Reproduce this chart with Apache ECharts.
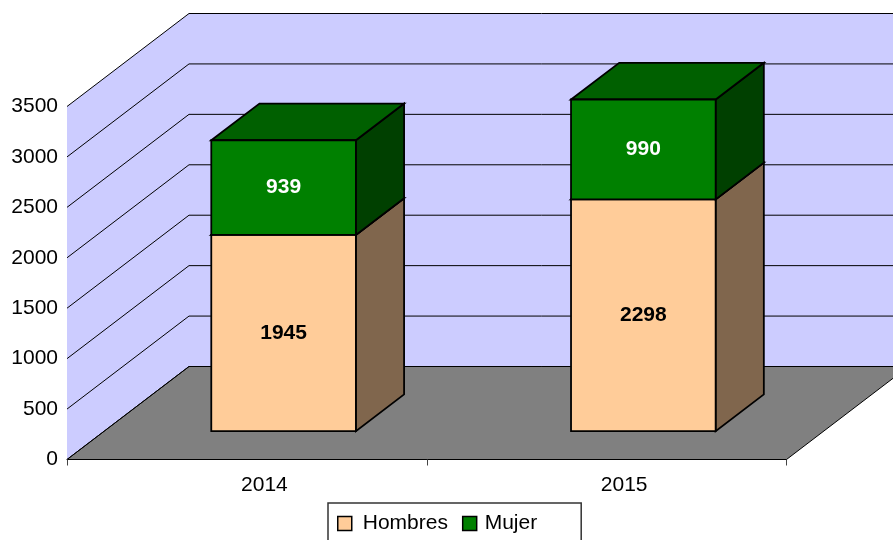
<!DOCTYPE html>
<html>
<head>
<meta charset="utf-8">
<style>
  html, body { margin: 0; padding: 0; background: #fff; overflow: hidden; }
  #chart { width: 893px; height: 540px; }
</style>
<script src="https://cdn.jsdelivr.net/npm/echarts@6/dist/echarts.min.js"></script>
</head>
<body>
<div id="chart"></div>
<script>
const categories = ['2014', '2015'];
const hombres = [1945, 2298];
const mujer = [939, 990];
const yTicks = [0, 500, 1000, 1500, 2000, 2500, 3000, 3500];

const FONT = '"Liberation Sans", Arial, sans-serif';
const FONT_SIZE = 21;

// 3D look: how far the back wall sits from the front plane
const DX = 122;
const DY = -93;
// where the bars sit inside that depth (0 front, 1 back)
const BAR_FRONT = 0.305;
const BAR_BACK = 0.70;
const BAR_WIDTH = 0.402; // part of the category band

function poly(points, fill, stroke, lineWidth) {
  return {
    type: 'polygon',
    shape: { points: points },
    style: { fill: fill, stroke: stroke || null, lineWidth: lineWidth || 1, lineJoin: 'miter' }
  };
}

function renderBackdrop(params, api) {
  const rect = params.coordSys;
  const left = rect.x;
  const right = rect.x + rect.width;
  const y0 = api.coord([0, 0])[1];
  const yTop = api.coord([0, yTicks[yTicks.length - 1]])[1];
  const children = [
    // left wall + back wall
    poly([[left, y0], [left, yTop], [left + DX, yTop + DY], [left + DX, y0 + DY]], '#CCCCFF'),
    poly([[left + DX, yTop + DY], [right + DX, yTop + DY], [right + DX, y0 + DY], [left + DX, y0 + DY]], '#CCCCFF'),
    // floor
    poly([[left, y0], [left + DX, y0 + DY], [right + DX, y0 + DY], [right, y0]], '#808080', '#000', 1)
  ];
  yTicks.forEach(function (t) {
    const y = api.coord([0, t])[1];
    children.push({
      type: 'polyline',
      shape: { points: [[left, y], [left + DX, y + DY], [right + DX, y + DY]] },
      style: { fill: null, stroke: '#000', lineWidth: 1 }
    });
  });
  return { type: 'group', children: children };
}

function makeBarRenderer(front, side, top, labelColor) {
  return function (params, api) {
    const band = api.size([1, 0])[0];
    const cx = api.coord([api.value(0), 0])[0];
    const w = band * BAR_WIDTH;
    const fx = cx - w / 2 + DX * BAR_FRONT - 0.5;
    const fdy = DY * BAR_FRONT;
    const ddx = DX * (BAR_BACK - BAR_FRONT);
    const ddy = DY * (BAR_BACK - BAR_FRONT);
    const yA = api.coord([0, api.value(1)])[1] + fdy;
    const yB = api.coord([0, api.value(2)])[1] + fdy;
    const x2 = fx + w;
    const lw = 1.8;
    return {
      type: 'group',
      children: [
        poly([[x2, yA], [x2, yB], [x2 + ddx, yB + ddy], [x2 + ddx, yA + ddy]], side, '#000', lw),
        poly([[fx, yB], [fx + ddx, yB + ddy], [x2 + ddx, yB + ddy], [x2, yB]], top, '#000', lw),
        poly([[fx, yA], [fx, yB], [x2, yB], [x2, yA]], front, '#000', lw),
        {
          type: 'text',
          style: {
            x: fx + w / 2,
            y: (yA + yB) / 2,
            text: String(api.value(2) - api.value(1)),
            fill: labelColor,
            font: 'bold ' + FONT_SIZE + 'px ' + FONT,
            align: 'center',
            verticalAlign: 'middle'
          }
        }
      ]
    };
  };
}

const chart = echarts.init(document.getElementById('chart'));

chart.setOption({
  animation: false,
  backgroundColor: '#fff',
  textStyle: { fontFamily: FONT },
  grid: { left: 67, top: 106.5, width: 719.5, height: 353 },
  xAxis: {
    type: 'category',
    data: categories,
    axisLine: { show: true, lineStyle: { color: '#000', width: 1 } },
    axisTick: { show: true, length: 6, lineStyle: { color: '#444', width: 1 } },
    axisLabel: { color: '#000', fontSize: FONT_SIZE, margin: 15, padding: [0, 0, 0, 35] },
    z: 5
  },
  yAxis: {
    type: 'value',
    min: 0,
    max: 3500,
    interval: 500,
    axisLine: { show: false },
    axisTick: { show: false },
    splitLine: { show: false },
    axisLabel: { color: '#000', fontSize: FONT_SIZE, margin: 9, formatter: function (v) { return String(v); } }
  },
  legend: {
    left: 328,
    top: 503,
    orient: 'horizontal',
    icon: 'rect',
    itemWidth: 14,
    itemHeight: 14,
    itemGap: 14,
    padding: [10, 44, 9, 9],
    backgroundColor: '#fff',
    borderColor: '#333',
    borderWidth: 1.5,
    textStyle: { color: '#000', fontSize: FONT_SIZE, padding: [0, 0, 10, 6] },
    data: [
      { name: 'Hombres', itemStyle: { color: '#FFCC99', borderColor: '#000', borderWidth: 1.5 } },
      {
        name: 'Mujer',
        itemStyle: { color: '#008000', borderColor: '#000', borderWidth: 1.5 },
        textStyle: { padding: [0, 0, 10, 3] }
      }
    ]
  },
  tooltip: { show: false },
  series: [
    {
      name: 'backdrop',
      type: 'custom',
      silent: true,
      renderItem: renderBackdrop,
      data: [[0, 0]],
      z: 1
    },
    {
      name: 'Hombres',
      type: 'custom',
      renderItem: makeBarRenderer('#FFCC99', '#80664D', '#BF9973', '#000'),
      encode: { x: 0, y: 2 },
      data: hombres.map(function (v, i) { return [i, 0, v]; }),
      itemStyle: { color: '#FFCC99' },
      z: 2
    },
    {
      name: 'Mujer',
      type: 'custom',
      renderItem: makeBarRenderer('#008000', '#004000', '#006000', '#fff'),
      encode: { x: 0, y: 2 },
      data: mujer.map(function (v, i) { return [i, hombres[i], hombres[i] + v]; }),
      itemStyle: { color: '#008000' },
      z: 3
    }
  ]
});
</script>
</body>
</html>
